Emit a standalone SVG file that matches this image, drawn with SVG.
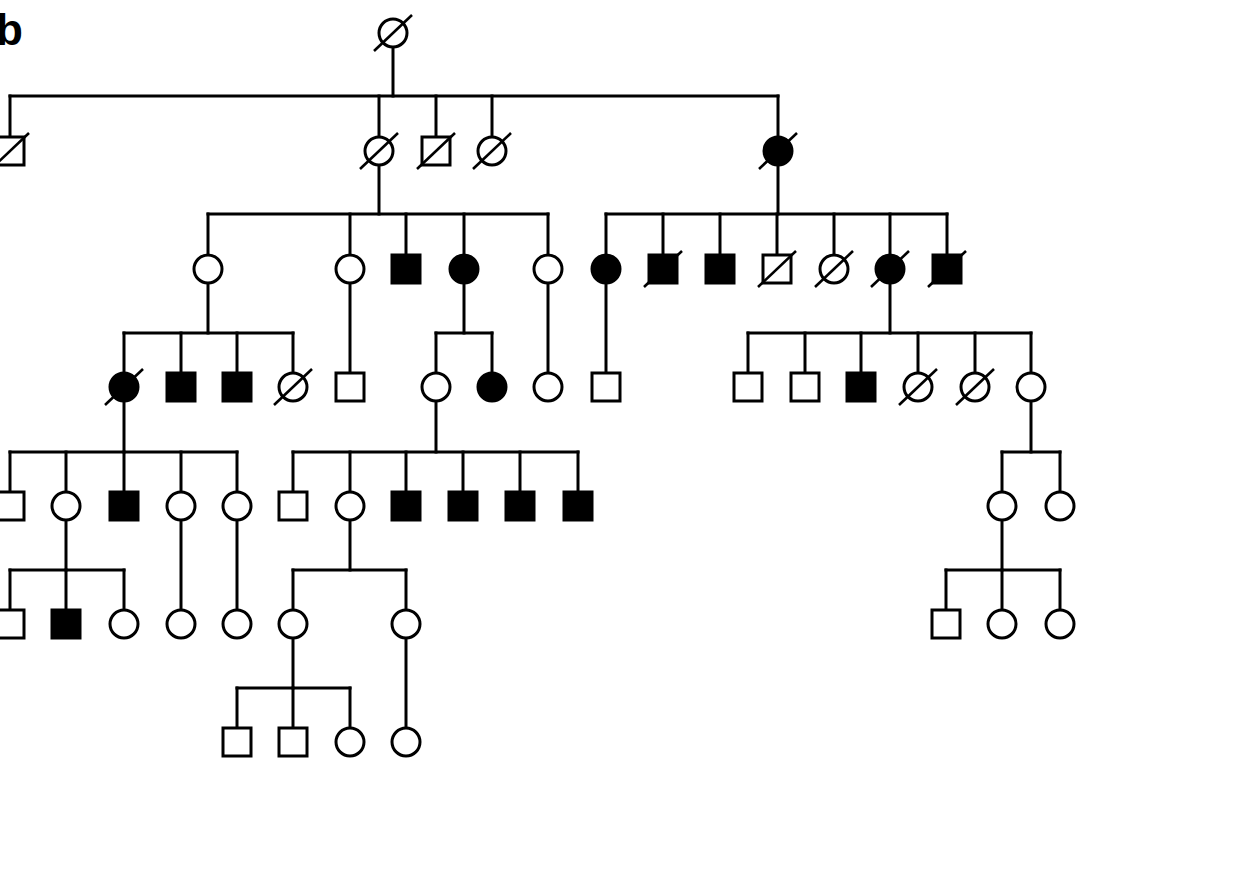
<svg xmlns="http://www.w3.org/2000/svg" xmlns:xlink="http://www.w3.org/1999/xlink" width="1248" height="886" viewBox="0 0 1248 886">
<style>
.o{fill:#fff;stroke:#000;stroke-width:3}
.f{fill:#000;stroke:#000;stroke-width:3}
.d{stroke:#000;stroke-width:2.6;fill:none}
.c line{stroke:#000;stroke-width:3;stroke-linecap:square}
.lbl{font-family:"Liberation Sans",Arial,sans-serif;font-weight:bold;font-size:44px;fill:#000}
</style>
<defs>
<rect id="sq" x="-14" y="-14" width="28" height="28"/>
<circle id="ci" r="14"/>
<line id="sl" x1="-19" y1="18" x2="19" y2="-18"/>
</defs>
<rect width="1248" height="886" fill="#fff"/>
<text class="lbl" x="-4" y="45">b</text>
<g id="connectors" class="c">
<line x1="393" y1="33" x2="393" y2="96"/>
<line x1="10" y1="96" x2="778" y2="96"/>
<line x1="10" y1="96" x2="10" y2="151"/>
<line x1="379" y1="96" x2="379" y2="151"/>
<line x1="436" y1="96" x2="436" y2="151"/>
<line x1="492" y1="96" x2="492" y2="151"/>
<line x1="778" y1="96" x2="778" y2="151"/>
<line x1="379" y1="151" x2="379" y2="214"/>
<line x1="208" y1="214" x2="548" y2="214"/>
<line x1="208" y1="214" x2="208" y2="269"/>
<line x1="350" y1="214" x2="350" y2="269"/>
<line x1="406" y1="214" x2="406" y2="269"/>
<line x1="464" y1="214" x2="464" y2="269"/>
<line x1="548" y1="214" x2="548" y2="269"/>
<line x1="778" y1="151" x2="778" y2="214"/>
<line x1="606" y1="214" x2="947" y2="214"/>
<line x1="606" y1="214" x2="606" y2="269"/>
<line x1="663" y1="214" x2="663" y2="269"/>
<line x1="720" y1="214" x2="720" y2="269"/>
<line x1="777" y1="214" x2="777" y2="269"/>
<line x1="834" y1="214" x2="834" y2="269"/>
<line x1="890" y1="214" x2="890" y2="269"/>
<line x1="947" y1="214" x2="947" y2="269"/>
<line x1="208" y1="269" x2="208" y2="333"/>
<line x1="124" y1="333" x2="293" y2="333"/>
<line x1="124" y1="333" x2="124" y2="387"/>
<line x1="181" y1="333" x2="181" y2="387"/>
<line x1="237" y1="333" x2="237" y2="387"/>
<line x1="293" y1="333" x2="293" y2="387"/>
<line x1="350" y1="269" x2="350" y2="387"/>
<line x1="464" y1="269" x2="464" y2="333"/>
<line x1="436" y1="333" x2="492" y2="333"/>
<line x1="436" y1="333" x2="436" y2="387"/>
<line x1="492" y1="333" x2="492" y2="387"/>
<line x1="548" y1="269" x2="548" y2="387"/>
<line x1="606" y1="269" x2="606" y2="387"/>
<line x1="890" y1="269" x2="890" y2="333"/>
<line x1="748" y1="333" x2="1031" y2="333"/>
<line x1="748" y1="333" x2="748" y2="387"/>
<line x1="805" y1="333" x2="805" y2="387"/>
<line x1="861" y1="333" x2="861" y2="387"/>
<line x1="918" y1="333" x2="918" y2="387"/>
<line x1="975" y1="333" x2="975" y2="387"/>
<line x1="1031" y1="333" x2="1031" y2="387"/>
<line x1="124" y1="387" x2="124" y2="452"/>
<line x1="10" y1="452" x2="237" y2="452"/>
<line x1="10" y1="452" x2="10" y2="506"/>
<line x1="66" y1="452" x2="66" y2="506"/>
<line x1="124" y1="452" x2="124" y2="506"/>
<line x1="181" y1="452" x2="181" y2="506"/>
<line x1="237" y1="452" x2="237" y2="506"/>
<line x1="436" y1="387" x2="436" y2="452"/>
<line x1="293" y1="452" x2="578" y2="452"/>
<line x1="293" y1="452" x2="293" y2="506"/>
<line x1="350" y1="452" x2="350" y2="506"/>
<line x1="406" y1="452" x2="406" y2="506"/>
<line x1="463" y1="452" x2="463" y2="506"/>
<line x1="520" y1="452" x2="520" y2="506"/>
<line x1="578" y1="452" x2="578" y2="506"/>
<line x1="1031" y1="387" x2="1031" y2="452"/>
<line x1="1002" y1="452" x2="1060" y2="452"/>
<line x1="1002" y1="452" x2="1002" y2="506"/>
<line x1="1060" y1="452" x2="1060" y2="506"/>
<line x1="66" y1="506" x2="66" y2="570"/>
<line x1="10" y1="570" x2="124" y2="570"/>
<line x1="10" y1="570" x2="10" y2="624"/>
<line x1="66" y1="570" x2="66" y2="624"/>
<line x1="124" y1="570" x2="124" y2="624"/>
<line x1="181" y1="506" x2="181" y2="624"/>
<line x1="237" y1="506" x2="237" y2="624"/>
<line x1="350" y1="506" x2="350" y2="570"/>
<line x1="293" y1="570" x2="406" y2="570"/>
<line x1="293" y1="570" x2="293" y2="624"/>
<line x1="406" y1="570" x2="406" y2="624"/>
<line x1="1002" y1="506" x2="1002" y2="570"/>
<line x1="946" y1="570" x2="1060" y2="570"/>
<line x1="946" y1="570" x2="946" y2="624"/>
<line x1="1002" y1="570" x2="1002" y2="624"/>
<line x1="1060" y1="570" x2="1060" y2="624"/>
<line x1="293" y1="624" x2="293" y2="688"/>
<line x1="237" y1="688" x2="350" y2="688"/>
<line x1="237" y1="688" x2="237" y2="742"/>
<line x1="293" y1="688" x2="293" y2="742"/>
<line x1="350" y1="688" x2="350" y2="742"/>
<line x1="406" y1="624" x2="406" y2="742"/>
</g>
<g id="I-1" transform="translate(393,33)"><use href="#ci" class="o"/><use href="#sl" class="d"/></g>
<g id="II-1" transform="translate(10,151)"><use href="#sq" class="o"/><use href="#sl" class="d"/></g>
<g id="II-2" transform="translate(379,151)"><use href="#ci" class="o"/><use href="#sl" class="d"/></g>
<g id="II-3" transform="translate(436,151)"><use href="#sq" class="o"/><use href="#sl" class="d"/></g>
<g id="II-4" transform="translate(492,151)"><use href="#ci" class="o"/><use href="#sl" class="d"/></g>
<g id="II-5" transform="translate(778,151)"><use href="#ci" class="f"/><use href="#sl" class="d"/></g>
<g id="III-1" transform="translate(208,269)"><use href="#ci" class="o"/></g>
<g id="III-2" transform="translate(350,269)"><use href="#ci" class="o"/></g>
<g id="III-3" transform="translate(406,269)"><use href="#sq" class="f"/></g>
<g id="III-4" transform="translate(464,269)"><use href="#ci" class="f"/></g>
<g id="III-5" transform="translate(548,269)"><use href="#ci" class="o"/></g>
<g id="III-6" transform="translate(606,269)"><use href="#ci" class="f"/></g>
<g id="III-7" transform="translate(663,269)"><use href="#sq" class="f"/><use href="#sl" class="d"/></g>
<g id="III-8" transform="translate(720,269)"><use href="#sq" class="f"/></g>
<g id="III-9" transform="translate(777,269)"><use href="#sq" class="o"/><use href="#sl" class="d"/></g>
<g id="III-10" transform="translate(834,269)"><use href="#ci" class="o"/><use href="#sl" class="d"/></g>
<g id="III-11" transform="translate(890,269)"><use href="#ci" class="f"/><use href="#sl" class="d"/></g>
<g id="III-12" transform="translate(947,269)"><use href="#sq" class="f"/><use href="#sl" class="d"/></g>
<g id="IV-1" transform="translate(124,387)"><use href="#ci" class="f"/><use href="#sl" class="d"/></g>
<g id="IV-2" transform="translate(181,387)"><use href="#sq" class="f"/></g>
<g id="IV-3" transform="translate(237,387)"><use href="#sq" class="f"/></g>
<g id="IV-4" transform="translate(293,387)"><use href="#ci" class="o"/><use href="#sl" class="d"/></g>
<g id="IV-5" transform="translate(350,387)"><use href="#sq" class="o"/></g>
<g id="IV-6" transform="translate(436,387)"><use href="#ci" class="o"/></g>
<g id="IV-7" transform="translate(492,387)"><use href="#ci" class="f"/></g>
<g id="IV-8" transform="translate(548,387)"><use href="#ci" class="o"/></g>
<g id="IV-9" transform="translate(606,387)"><use href="#sq" class="o"/></g>
<g id="IV-10" transform="translate(748,387)"><use href="#sq" class="o"/></g>
<g id="IV-11" transform="translate(805,387)"><use href="#sq" class="o"/></g>
<g id="IV-12" transform="translate(861,387)"><use href="#sq" class="f"/></g>
<g id="IV-13" transform="translate(918,387)"><use href="#ci" class="o"/><use href="#sl" class="d"/></g>
<g id="IV-14" transform="translate(975,387)"><use href="#ci" class="o"/><use href="#sl" class="d"/></g>
<g id="IV-15" transform="translate(1031,387)"><use href="#ci" class="o"/></g>
<g id="V-1" transform="translate(10,506)"><use href="#sq" class="o"/></g>
<g id="V-2" transform="translate(66,506)"><use href="#ci" class="o"/></g>
<g id="V-3" transform="translate(124,506)"><use href="#sq" class="f"/></g>
<g id="V-4" transform="translate(181,506)"><use href="#ci" class="o"/></g>
<g id="V-5" transform="translate(237,506)"><use href="#ci" class="o"/></g>
<g id="V-6" transform="translate(293,506)"><use href="#sq" class="o"/></g>
<g id="V-7" transform="translate(350,506)"><use href="#ci" class="o"/></g>
<g id="V-8" transform="translate(406,506)"><use href="#sq" class="f"/></g>
<g id="V-9" transform="translate(463,506)"><use href="#sq" class="f"/></g>
<g id="V-10" transform="translate(520,506)"><use href="#sq" class="f"/></g>
<g id="V-11" transform="translate(578,506)"><use href="#sq" class="f"/></g>
<g id="V-12" transform="translate(1002,506)"><use href="#ci" class="o"/></g>
<g id="V-13" transform="translate(1060,506)"><use href="#ci" class="o"/></g>
<g id="VI-1" transform="translate(10,624)"><use href="#sq" class="o"/></g>
<g id="VI-2" transform="translate(66,624)"><use href="#sq" class="f"/></g>
<g id="VI-3" transform="translate(124,624)"><use href="#ci" class="o"/></g>
<g id="VI-4" transform="translate(181,624)"><use href="#ci" class="o"/></g>
<g id="VI-5" transform="translate(237,624)"><use href="#ci" class="o"/></g>
<g id="VI-6" transform="translate(293,624)"><use href="#ci" class="o"/></g>
<g id="VI-7" transform="translate(406,624)"><use href="#ci" class="o"/></g>
<g id="VI-8" transform="translate(946,624)"><use href="#sq" class="o"/></g>
<g id="VI-9" transform="translate(1002,624)"><use href="#ci" class="o"/></g>
<g id="VI-10" transform="translate(1060,624)"><use href="#ci" class="o"/></g>
<g id="VII-1" transform="translate(237,742)"><use href="#sq" class="o"/></g>
<g id="VII-2" transform="translate(293,742)"><use href="#sq" class="o"/></g>
<g id="VII-3" transform="translate(350,742)"><use href="#ci" class="o"/></g>
<g id="VII-4" transform="translate(406,742)"><use href="#ci" class="o"/></g>
</svg>
